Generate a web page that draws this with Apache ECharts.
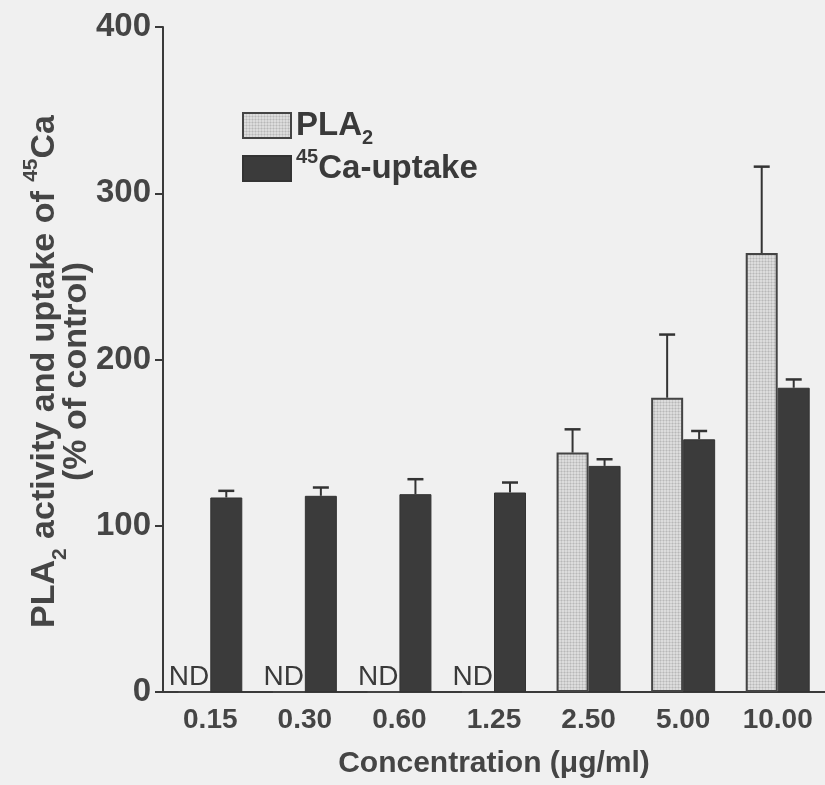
<!DOCTYPE html>
<html>
<head>
<meta charset="utf-8">
<script src="https://cdn.jsdelivr.net/npm/echarts@6/dist/echarts.min.js"></script>
<style>
html,body{margin:0;padding:0;background:#f0f0f0;}
#chart{width:825px;height:785px;}
</style>
</head>
<body>
<div id="chart"></div>
<script>
// ---- data ----
const categories = ['0.15', '0.30', '0.60', '1.25', '2.50', '5.00', '10.00'];
const pla2Values = [0, 0, 0, 0, 144, 177, 264];        // 0 = not detected (ND)
const pla2Errors = [0, 0, 0, 0, 14, 38, 52];
const pla2Detected = [false, false, false, false, true, true, true];
const caValues = [117, 118, 119, 120, 136, 152, 183];
const caErrors = [4, 5, 9, 6, 4, 5, 5];
const yTicks = [0, 100, 200, 300, 400];

// ---- styles ----
const FONT = 'Liberation Sans, Arial, sans-serif';
const TXT = '#454545';
const DARK = '#3b3b3b';
const BAR_W = 32;

// light dotted fill for PLA2 bars
const pat = document.createElement('canvas');
pat.width = 3; pat.height = 3;
const pc = pat.getContext('2d');
pc.fillStyle = '#dcdcdc'; pc.fillRect(0, 0, 3, 3);
pc.fillStyle = '#b8b8b8'; pc.fillRect(0, 0, 1, 1);
pc.fillStyle = '#cbcbcb'; pc.fillRect(1, 0, 2, 1); pc.fillRect(0, 1, 1, 2);

function errorRender(side, errs) {
  return function (params, api) {
    const i = api.value(0);
    const v = api.value(1);
    const e = errs[i];
    if (!e) return null;
    const base = api.coord([i, v]);
    const top = api.coord([i, v + e]);
    const x = base[0] + side * BAR_W / 2;
    const cap = 8;
    return {
      type: 'group',
      children: [
        { type: 'line', shape: { x1: x, y1: base[1], x2: x, y2: top[1] },
          style: { stroke: '#333', lineWidth: 2 } },
        { type: 'line', shape: { x1: x - cap, y1: top[1], x2: x + cap, y2: top[1] },
          style: { stroke: '#333', lineWidth: 2.5 } }
      ]
    };
  };
}

const chart = echarts.init(document.getElementById('chart'), null, { renderer: 'canvas' });

const LC = '#3a3a3a';
const richLegend = {
  b: { fontSize: 33, fontWeight: 'bold', color: LC, fontFamily: FONT, lineHeight: 26 },
  sub: { fontSize: 20, fontWeight: 'bold', color: LC, fontFamily: FONT, verticalAlign: 'bottom', lineHeight: 20, padding: [0, 0, -10, 0] },
  sup: { fontSize: 20, fontWeight: 'bold', color: LC, fontFamily: FONT, verticalAlign: 'top', lineHeight: 20, padding: [-8, 0, 0, 0] }
};

chart.setOption({
  backgroundColor: '#f0f0f0',
  animation: false,
  grid: { left: 163, right: -5, top: 27, bottom: 93 },
  legend: {
    orient: 'vertical',
    left: 237,
    top: 104,
    itemWidth: 48,
    itemHeight: 25,
    itemGap: -1,
    icon: 'rect',
    data: ['PLA2', '45Ca-uptake'],
    formatter: function (name) {
      return name === 'PLA2' ? '{b|PLA}{sub|2}' : '{sup|45}{b|Ca-uptake}';
    },
    textStyle: { rich: richLegend, fontSize: 33, lineHeight: 26 }
  },
  xAxis: {
    type: 'category',
    data: categories,
    name: 'Concentration (\u03bcg/ml)',
    nameLocation: 'middle',
    nameGap: 57,
    nameTextStyle: { fontSize: 30, fontWeight: 'bold', color: TXT, fontFamily: FONT },
    axisLine: { lineStyle: { color: '#3a3a3a', width: 2 } },
    axisTick: { show: false },
    axisLabel: { fontSize: 28, fontWeight: 'bold', color: TXT, fontFamily: FONT, margin: 14 }
  },
  yAxis: {
    type: 'value',
    min: 0, max: 400, interval: 100,
    name: '{t|PLA}{s|2}{t| activity and uptake of }{p|45}{t|Ca}\n{t|(% of control)}',
    nameLocation: 'middle',
    nameGap: 70,
    nameMoveOverlap: false,
    nameTextStyle: {
      color: TXT, fontFamily: FONT, fontSize: 34, fontWeight: 'bold', lineHeight: 32,
      padding: [0, 24, 0, 0],
      rich: {
        t: { fontSize: 34, fontWeight: 'bold', color: TXT, fontFamily: FONT, lineHeight: 32 },
        s: { fontSize: 21, fontWeight: 'bold', color: TXT, fontFamily: FONT, verticalAlign: 'bottom', lineHeight: 21, padding: [0, 0, -10, 0] },
        p: { fontSize: 21, fontWeight: 'bold', color: TXT, fontFamily: FONT, verticalAlign: 'top', lineHeight: 21, padding: [-8, 0, 0, 0] }
      }
    },
    axisLine: { show: true, lineStyle: { color: '#3a3a3a', width: 2 } },
    axisTick: { show: true, length: 8, lineStyle: { color: '#3a3a3a', width: 2 } },
    splitLine: { show: false },
    axisLabel: {
      fontSize: 33, fontWeight: 'bold', color: TXT, fontFamily: FONT, margin: 12,
      formatter: function (v) { return yTicks.indexOf(v) >= 0 ? String(v) : ''; }
    }
  },
  series: [
    {
      name: 'PLA2',
      type: 'bar',
      data: pla2Values,
      barWidth: BAR_W,
      barGap: '0%',
      itemStyle: { color: { image: pat, repetition: 'repeat' }, borderColor: '#444', borderWidth: 2 },
      label: {
        show: true,
        position: ['100%', '0%'],
        align: 'right',
        verticalAlign: 'bottom',
        formatter: function (p) { return pla2Detected[p.dataIndex] ? '' : 'ND'; },
        fontSize: 28, color: '#3a3a3a', fontFamily: FONT,
        offset: [-2, 0]
      },
      z: 2
    },
    {
      name: '45Ca-uptake',
      type: 'bar',
      data: caValues,
      barWidth: BAR_W,
      barGap: '0%',
      itemStyle: { color: DARK, borderColor: '#333', borderWidth: 1 },
      z: 2
    },
    {
      type: 'custom',
      renderItem: errorRender(-1, pla2Errors),
      data: pla2Values.map(function (v, i) { return [i, v]; }),
      encode: { x: 0, y: 1 },
      z: 5,
      silent: true
    },
    {
      type: 'custom',
      renderItem: errorRender(1, caErrors),
      data: caValues.map(function (v, i) { return [i, v]; }),
      encode: { x: 0, y: 1 },
      z: 5,
      silent: true
    }
  ]
});
</script>
</body>
</html>
